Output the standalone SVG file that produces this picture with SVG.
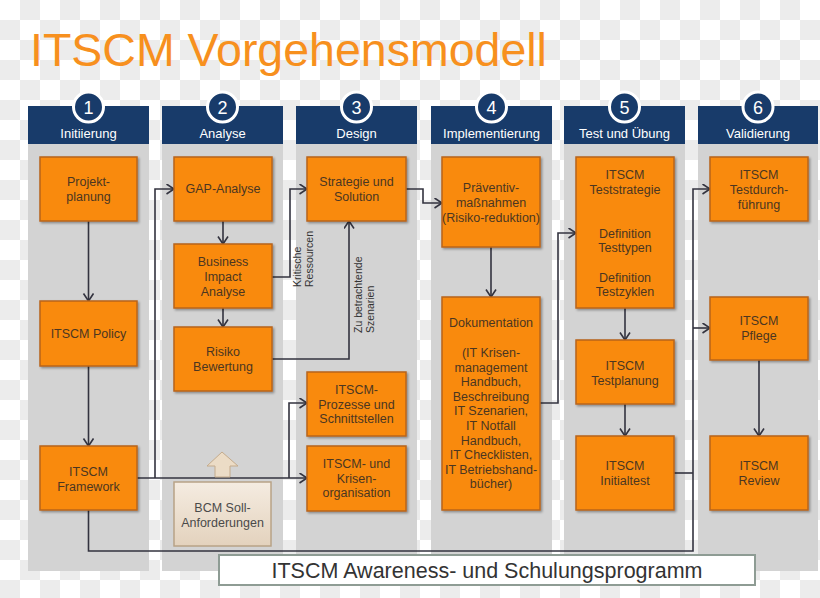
<svg xmlns="http://www.w3.org/2000/svg" width="820" height="598" viewBox="0 0 820 598">
<defs>
<pattern id="chk" width="40" height="40" patternUnits="userSpaceOnUse">
<rect width="40" height="40" fill="#ffffff"/>
<rect x="20" y="0" width="20" height="20" fill="#ececec"/>
<rect x="0" y="20" width="20" height="20" fill="#ececec"/>
</pattern>
<filter id="sh" x="-10%" y="-10%" width="130%" height="130%">
<feDropShadow dx="1.5" dy="1.5" stdDeviation="1" flood-color="#000" flood-opacity="0.35"/>
</filter>
<linearGradient id="beige" x1="0" y1="0" x2="0" y2="1">
<stop offset="0" stop-color="#f5ece1"/>
<stop offset="1" stop-color="#e3d2bd"/>
</linearGradient>
<marker id="arr" markerUnits="userSpaceOnUse" markerWidth="10" markerHeight="12" refX="8.5" refY="5.5" orient="auto">
<path d="M1,0.5 L8.5,5.5 L1,10.5" fill="none" stroke="#33333f" stroke-width="1.6"/>
</marker>
<style>
text{font-family:"Liberation Sans",Arial,sans-serif}
.panel{fill:#d3d3d3}
.hdr{fill:#183b6a}
.num circle{fill:#183b6a;stroke:#ffffff;stroke-width:3}
.num text{fill:#ffffff;font-size:18px;text-anchor:middle}
.hl{fill:#ffffff;font-size:13px;text-anchor:middle}
.node rect{fill:#f98a10;stroke:#b8641d;stroke-width:1.5;filter:url(#sh)}
.node text{fill:#4b3621;font-size:12.5px;text-anchor:middle}
.conn path{fill:none;stroke:#33333f;stroke-width:1.6}
.lbl{fill:#333333;font-size:10.5px}
</style>
</defs>
<rect width="820" height="598" fill="url(#chk)"/>
<text x="30" y="66" font-size="46.5" fill="#f7901e">ITSCM Vorgehensmodell</text>

<g id="columns">
<rect class="panel" x="28" y="144" width="121" height="427"/>
<rect class="panel" x="162" y="144" width="121" height="427"/>
<rect class="panel" x="296" y="144" width="121" height="427"/>
<rect class="panel" x="431" y="144" width="121" height="427"/>
<rect class="panel" x="564" y="144" width="121" height="427"/>
<rect class="panel" x="698" y="144" width="120" height="427"/>
<rect class="hdr" x="28" y="106" width="121" height="38"/>
<rect class="hdr" x="162" y="106" width="121" height="38"/>
<rect class="hdr" x="296" y="106" width="121" height="38"/>
<rect class="hdr" x="431" y="106" width="121" height="38"/>
<rect class="hdr" x="564" y="106" width="121" height="38"/>
<rect class="hdr" x="698" y="106" width="120" height="38"/>
<g class="num"><circle cx="88.5" cy="107" r="15"/><text x="88.5" y="113.5">1</text></g>
<g class="num"><circle cx="222.5" cy="107" r="15"/><text x="222.5" y="113.5">2</text></g>
<g class="num"><circle cx="356.5" cy="107" r="15"/><text x="356.5" y="113.5">3</text></g>
<g class="num"><circle cx="491.5" cy="107" r="15"/><text x="491.5" y="113.5">4</text></g>
<g class="num"><circle cx="624.5" cy="107" r="15"/><text x="624.5" y="113.5">5</text></g>
<g class="num"><circle cx="758" cy="107" r="15"/><text x="758" y="113.5">6</text></g>
<text class="hl" x="88.5" y="138">Initiierung</text>
<text class="hl" x="222.5" y="138">Analyse</text>
<text class="hl" x="356.5" y="138">Design</text>
<text class="hl" x="491.5" y="138">Implementierung</text>
<text class="hl" x="624.5" y="138">Test und Übung</text>
<text class="hl" x="758" y="138">Validierung</text>
</g>

<g class="conn" id="connectors">
<path d="M88.5,221 V301" marker-end="url(#arr)"/>
<path d="M88.5,366 V446" marker-end="url(#arr)"/>
<path d="M137,478 H307" marker-end="url(#arr)"/>
<path d="M155,478 V189 H174" marker-end="url(#arr)"/>
<path d="M289,478 V403 H307" marker-end="url(#arr)"/>
<path d="M223,221 V244" marker-end="url(#arr)"/>
<path d="M223,308 V327" marker-end="url(#arr)"/>
<path d="M272,277 H290 V189 H307" marker-end="url(#arr)"/>
<path d="M272,359 H349 V221" marker-end="url(#arr)"/>
<path d="M406,189 H423 V203 H442" marker-end="url(#arr)"/>
<path d="M491,247 V297" marker-end="url(#arr)"/>
<path d="M540,403 H558 V233 H576" marker-end="url(#arr)"/>
<path d="M625,308 V340" marker-end="url(#arr)"/>
<path d="M625,404 V436" marker-end="url(#arr)"/>
<path d="M88.5,510 V551 H693 V189 H710" marker-end="url(#arr)"/>
<path d="M693,328 H710" marker-end="url(#arr)"/>
<path d="M674,473 H693"/>
<path d="M759,360 V436" marker-end="url(#arr)"/>
<text class="lbl" transform="translate(301,287) rotate(-90)"><tspan x="0" y="0">Kritische</tspan><tspan x="0" y="12">Ressourcen</tspan></text>
<text class="lbl" transform="translate(362,333) rotate(-90)"><tspan x="0" y="0">Zu betrachtende</tspan><tspan x="0" y="12">Szenarien</tspan></text>
</g>

<g class="node" id="n-projekt"><rect x="40" y="157" width="97" height="64"/><text x="88.5" y="186"><tspan x="88.5">Projekt-</tspan><tspan x="88.5" dy="15">planung</tspan></text></g>
<g class="node" id="n-policy"><rect x="40" y="301" width="97" height="65"/><text x="88.5" y="338">ITSCM Policy</text></g>
<g class="node" id="n-framework"><rect x="40" y="446" width="97" height="64"/><text x="88.5" y="476"><tspan x="88.5">ITSCM</tspan><tspan x="88.5" dy="14.5">Framework</tspan></text></g>

<g class="node" id="n-gap"><rect x="174" y="157" width="98" height="64"/><text x="223" y="193">GAP-Analyse</text></g>
<g class="node" id="n-bia"><rect x="174" y="244" width="98" height="64"/><text x="223" y="266"><tspan x="223">Business</tspan><tspan x="223" dy="15">Impact</tspan><tspan x="223" dy="15">Analyse</tspan></text></g>
<g class="node" id="n-risiko"><rect x="174" y="327" width="98" height="64"/><text x="223" y="356"><tspan x="223">Risiko</tspan><tspan x="223" dy="15">Bewertung</tspan></text></g>
<g id="n-bcm">
<path d="M222,452 L238,466 L230,466 L230,477 L215,477 L215,466 L207,466 Z" fill="#ecdcc6" stroke="#c4ab8c" stroke-width="1"/>
<rect x="174" y="482" width="97" height="64" fill="url(#beige)" stroke="#b8a387" stroke-width="1.5"/>
<text x="222.5" y="512" font-size="12.5" fill="#4a4a4a" text-anchor="middle"><tspan x="222.5">BCM Soll-</tspan><tspan x="222.5" dy="14.5">Anforderungen</tspan></text>
</g>

<g class="node" id="n-strategie"><rect x="307" y="157" width="99" height="64"/><text x="356.5" y="186"><tspan x="356.5">Strategie und</tspan><tspan x="356.5" dy="15">Solution</tspan></text></g>
<g class="node" id="n-prozesse"><rect x="307" y="372" width="99" height="64"/><text x="356.5" y="394"><tspan x="356.5">ITSCM-</tspan><tspan x="356.5" dy="14.5">Prozesse und</tspan><tspan x="356.5" dy="14.5">Schnittstellen</tspan></text></g>
<g class="node" id="n-krisenorg"><rect x="307" y="446" width="99" height="65"/><text x="356.5" y="468"><tspan x="356.5">ITSCM- und</tspan><tspan x="356.5" dy="14.5">Krisen-</tspan><tspan x="356.5" dy="14.5">organisation</tspan></text></g>

<g class="node" id="n-praeventiv"><rect x="442" y="157" width="98" height="90"/><text x="491" y="192"><tspan x="491">Präventiv-</tspan><tspan x="491" dy="15">maßnahmen</tspan><tspan x="491" dy="15">(Risiko-reduktion)</tspan></text></g>
<g class="node" id="n-doku"><rect x="442" y="297" width="98" height="213"/><text x="491" y="327"><tspan x="491">Dokumentation</tspan><tspan x="491" dy="30">(IT Krisen-</tspan><tspan x="491" dy="14.6">management</tspan><tspan x="491" dy="14.6">Handbuch,</tspan><tspan x="491" dy="14.6">Beschreibung</tspan><tspan x="491" dy="14.6">IT Szenarien,</tspan><tspan x="491" dy="14.6">IT Notfall</tspan><tspan x="491" dy="14.6">Handbuch,</tspan><tspan x="491" dy="14.6">IT Checklisten,</tspan><tspan x="491" dy="14.6">IT Betriebshand-</tspan><tspan x="491" dy="14.6">bücher)</tspan></text></g>

<g class="node" id="n-teststrategie"><rect x="576" y="157" width="98" height="151"/><text x="625" y="179"><tspan x="625">ITSCM</tspan><tspan x="625" dy="14.5">Teststrategie</tspan><tspan x="625" dy="44">Definition</tspan><tspan x="625" dy="14.5">Testtypen</tspan><tspan x="625" dy="29.5">Definition</tspan><tspan x="625" dy="14.5">Testzyklen</tspan></text></g>
<g class="node" id="n-testplanung"><rect x="576" y="340" width="98" height="64"/><text x="625" y="370"><tspan x="625">ITSCM</tspan><tspan x="625" dy="14.5">Testplanung</tspan></text></g>
<g class="node" id="n-initialtest"><rect x="576" y="436" width="98" height="74"/><text x="625" y="470"><tspan x="625">ITSCM</tspan><tspan x="625" dy="15">Initialtest</tspan></text></g>

<g class="node" id="n-testdurch"><rect x="710" y="157" width="98" height="64"/><text x="759" y="179"><tspan x="759">ITSCM</tspan><tspan x="759" dy="15">Testdurch-</tspan><tspan x="759" dy="15">führung</tspan></text></g>
<g class="node" id="n-pflege"><rect x="710" y="297" width="98" height="63"/><text x="759" y="325"><tspan x="759">ITSCM</tspan><tspan x="759" dy="15">Pflege</tspan></text></g>
<g class="node" id="n-review"><rect x="710" y="436" width="98" height="74"/><text x="759" y="470"><tspan x="759">ITSCM</tspan><tspan x="759" dy="15">Review</tspan></text></g>

<g id="n-awareness">
<rect x="219" y="555" width="536" height="30" fill="#ffffff" stroke="#8e9c94" stroke-width="2"/>
<text x="487" y="578" font-size="21.5" fill="#333333" text-anchor="middle">ITSCM Awareness- und Schulungsprogramm</text>
</g>
</svg>
